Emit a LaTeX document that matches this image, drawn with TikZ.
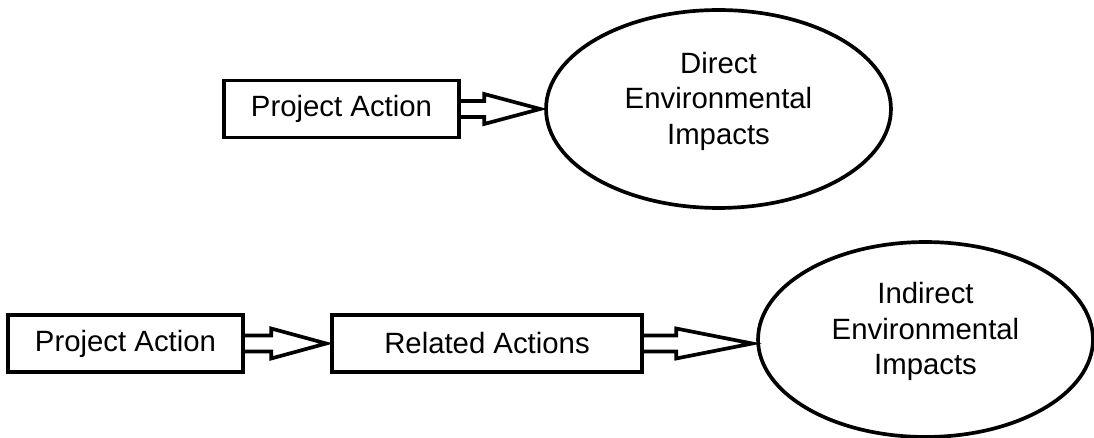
\documentclass[tikz,border=0pt]{standalone}
\usepackage{fontspec}
\setmainfont{Liberation Sans}
\usetikzlibrary{shapes.geometric,calc}
\newcommand{\hollowarrow}[3]{%
  \coordinate (tip) at (#2.west |- #1.east);
  \draw[blk] ($(#1.east)+(0,-8)$) -- ($(tip)+(-#3-4,-8)$) -- ($(tip)+(-#3-4,-15)$)
    -- ($(tip)+(-4,0)$) -- ($(tip)+(-#3-4,15)$) -- ($(tip)+(-#3-4,8)$) -- ($(#1.east)+(0,8)$);}

\begin{document}
\begin{tikzpicture}[x=0.02cm,y=-0.02cm,line width=2.1pt,
  every node/.style={font=\fontsize{16.7}{20.2}\selectfont},
  act/.style={draw,rectangle,inner sep=0pt,minimum height=1.14cm},
  imp/.style={draw,ellipse,inner sep=0pt,align=center,text depth=12.5pt},
  blk/.style={line join=miter}]
\useasboundingbox (0,0) rectangle (1094,438);
% direct impacts
\node[act,minimum width=4.7cm] (pa) at (341.5,109) {Project Action};
\node[imp,minimum width=6.9cm,minimum height=3.96cm] (dir) at (718.5,109) {Direct\\Environmental\\Impacts};
\hollowarrow{pa}{dir}{56}
% indirect impacts
\node[act,minimum width=4.7cm] (pb) at (125.5,343.5) {Project Action};
\node[act,minimum width=6.2cm] (rel) at (487,343.5) {Related Actions};
\node[imp,minimum width=6.7cm,minimum height=3.9cm] (ind) at (925.5,339.5) {Indirect\\Environmental\\Impacts};
\hollowarrow{pb}{rel}{55}
\hollowarrow{rel}{ind}{76}
\end{tikzpicture}
\end{document}
